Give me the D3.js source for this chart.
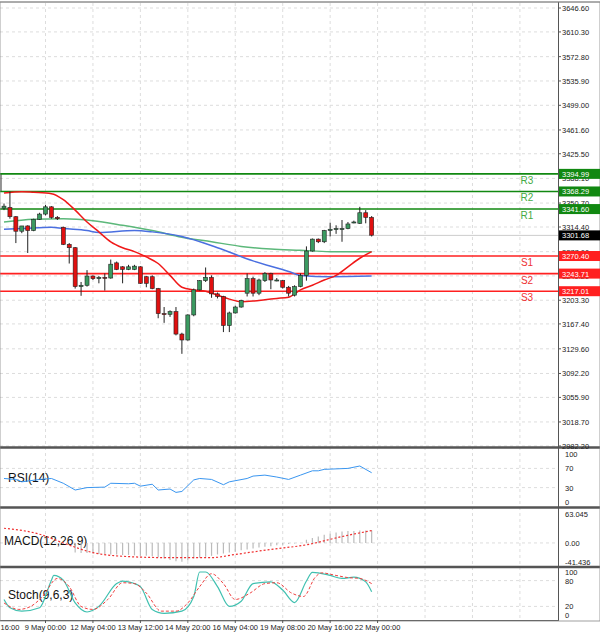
<!DOCTYPE html>
<html><head><meta charset="utf-8">
<script src="https://cdn.jsdelivr.net/npm/d3@7"></script>
<style>body{margin:0;background:#fff}svg{display:block;font-family:"Liberation Sans",Arial,sans-serif}</style>
</head><body><svg id="c" width="600" height="632"></svg>
<script>
// candles: open, high, low, close
const candles = [
 [3343,3350,3340,3346],[3344,3368,3327,3330],[3330,3331,3290,3308],[3308,3316,3305,3316],[3316,3317,3275,3309],
 [3309,3327,3308,3326],[3326,3336,3325,3334],[3334,3348,3332,3345],[3345,3346,3327,3329],[3329,3331,3325,3327],
 [3314,3315,3287,3288],[3288,3290,3259,3283],[3283,3284,3221,3224],[3224,3231,3210,3226],[3226,3249,3224,3240],
 [3240,3241,3234,3236],[3236,3240,3229,3238],[3238,3244,3218,3237],[3237,3265,3236,3258],[3260,3262,3249,3250],
 [3254,3255,3229,3250],[3250,3257,3249,3254],[3250,3257,3249,3255],[3254,3255,3228,3229],[3239,3240,3223,3229],
 [3239,3241,3220,3221],[3221,3222,3176,3183],[3183,3193,3169,3182],[3182,3188,3178,3186],[3186,3193,3150,3152],
 [3152,3154,3122,3143],[3143,3182,3142,3181],[3181,3221,3179,3219],[3219,3234,3218,3233],[3233,3253,3231,3238],
 [3238,3241,3207,3213],[3213,3215,3206,3209],[3209,3210,3155,3165],[3165,3186,3155,3184],[3184,3195,3183,3193],
 [3193,3204,3192,3203],[3214,3244,3209,3236],[3236,3239,3209,3214],[3214,3236,3211,3234],[3233,3246,3231,3244],
 [3244,3245,3220,3234],[3234,3237,3232,3234],[3233,3234,3221,3223],[3223,3225,3209,3214],[3211,3226,3209,3224],
 [3224,3244,3223,3241],[3241,3285,3233,3278],[3278,3297,3277,3296],[3296,3297,3290,3292],[3292,3310,3290,3309],
 [3309,3321,3300,3311],[3312,3317,3304,3312],[3312,3325,3292,3312],[3312,3322,3311,3319],[3321,3324,3320,3322],
 [3320,3345,3319,3336],[3336,3340,3320,3329],[3329,3331,3300,3302]
];
const lastPrice = 3301.68;
const maRed = [[0,3366],[3,3368],[5,3367],[8,3365],[10,3356],[12,3340],[14,3322],[16,3307],[18,3292],[20,3283],[22,3277],[24,3269],[26,3259],[28,3241],[30,3223],[32,3219],[34,3217],[36,3211],[38,3205],[40,3201],[42,3202],[44,3204],[46,3206],[48,3208],[50,3219],[52,3226],[54,3234],[56,3241],[58,3254],[60,3267],[62,3277]];
const maGreen = [[0,3322],[5,3326],[10,3327],[15,3324],[20,3317],[25,3309],[30,3299],[35,3292],[40,3285],[45,3281],[50,3279],[55,3277],[62,3277]];
const maBlue = [[0,3311],[3,3312],[8,3314],[10,3312],[14,3309],[16,3306],[22,3309],[25,3307],[30,3300],[36,3283],[42,3263],[48,3247],[50,3241],[55,3239],[62,3240]];
const levels = [["R3",3394.99],["R2",3368.29],["R1",3341.60],["S1",3270.40],["S2",3243.71],["S3",3217.01]];
const priceTicks = ["3646.60","3610.30","3572.80","3535.90","3499.00","3461.60","3425.50","3388.10","3350.70","3314.40","3277.00","3240.20","3203.30","3167.40","3129.60","3092.20","3055.90","3018.70","2982.20"];
const timeLabels = [[-1,"16:00"],[7,"9 May 00:00"],[15,"12 May 04:00"],[23,"13 May 12:00"],[31,"14 May 20:00"],[39,"16 May 04:00"],[47,"19 May 08:00"],[55,"20 May 16:00"],[63,"22 May 00:00"]];
const rsi = [[0,49],[2,47],[3,42],[6,47],[8,49],[10,39],[12,25],[14,30],[17,31],[18,39],[21,38],[22,39],[23,33],[25,37],[26,25],[28,27],[29,20],[30,22],[32,46],[33,49],[35,47],[37,36],[38,42],[41,49],[42,54],[44,56],[46,52],[48,47],[50,56],[52,65],[53,65],[54,68],[56,69],[58,70],[60,75],[62,61]];
const macdHist = [0,0,0,0,0,0,0,0,0,0,0,0,-21,-22,-22,-23,-24,-24,-25,-25,-26,-26,-27,-28,-28,-29,-31,-34,-37,-40,-41,-38,-34,-32,-30,-28,-25,-23,-21,-19,-16,-14,-12,-10,-8,-7,-5,-4,-2,-1,0,7,11,14,18,20,23,25,26,26,27,27,27];
const macdSignal = [[0,32],[6,19],[10,0],[15,-21],[20,-29],[28,-32],[35,-32],[39,-25],[45,-14],[51,-4],[57,14],[62,27]];
const stochK = [[0,36],[1,17],[3,9],[6,17],[8,81],[8.4,92],[10,81],[12,28],[14,7],[16,20],[19,73],[20,79],[21,77],[23,66],[25,13],[27,4],[30,9],[32,43],[33,100],[34,100],[36,66],[38,20],[40,32],[42,73],[45,77],[47,58],[49,29],[51,79],[52,99],[53,98],[55,92],[57,85],[59,88],[61,77],[62,54]];
const stochD = [[0,28],[2.5,13],[4.5,20],[6.5,43],[9,85],[11,66],[13,20],[15,13],[17.5,36],[20,75],[22,73],[24,51],[26.5,9],[29,9],[31,28],[33,66],[35,96],[37,73],[39,36],[41.5,51],[44,73],[46,75],[48.5,51],[50.5,43],[52.5,88],[53.5,98],[56,92],[58,87],[60,85],[62,73]];

const svg = d3.select("#c");
const W = 558;
const x = d3.scaleLinear().domain([0, 1]).range([4, 9.93]);
const y = d3.scaleLinear().domain([2982.2, 3646.6]).range([446, 8]);
const panels = [
  {top: 450, bottom: 506, y: d3.scaleLinear().domain([0,100]).range([502,454]), ticks:[[100,"100"],[70,"70"],[30,"30"],[0,"0"]], grid:[70,30], title:"RSI(14)", ty:482, tx:8},
  {top: 509, bottom: 566, y: d3.scaleLinear().domain([-41.436,63.045]).range([562,514]), ticks:[[63.045,"63.045"],[0,"0.00"],[-41.436,"-41.436"]], grid:[0], title:"MACD(12,26,9)", ty:545, tx:4},
  {top: 568, bottom: 620, y: d3.scaleLinear().domain([0,100]).range([615,572]), ticks:[[100,"100"],[80,"80"],[20,"20"],[0,"0"]], grid:[80,20], title:"Stoch(9,6,3)", ty:599, tx:8}
];

// vertical grid
const vg = svg.append("g");
for (let i = -1; i < 95; i += 8) {
  vg.append("line").attr("x1", x(i)).attr("x2", x(i)).attr("y1", 3).attr("y2", 620)
    .attr("stroke", "#ddd").attr("stroke-dasharray", "3,3");
}
// horizontal grid main
priceTicks.forEach(t => svg.append("line").attr("x1", 0).attr("x2", W).attr("y1", y(+t)).attr("y2", y(+t))
  .attr("stroke", "#ddd").attr("stroke-dasharray", "3,3"));
svg.append("line").attr("x1", 0).attr("x2", W).attr("y1", y(lastPrice)).attr("y2", y(lastPrice)).attr("stroke", "#ccc");

// levels
svg.append("line").attr("x1", 1).attr("x2", 1).attr("y1", y(3394.99)).attr("y2", y(3368.29)).attr("stroke", "#333");
levels.forEach(([n, v]) => {
  const res = n[0] === "R";
  const col = res ? "#118811" : "#ff2020";
  svg.append("line").attr("x1", 0).attr("x2", W).attr("y1", y(v)).attr("y2", y(v)).attr("stroke", col).attr("stroke-width", 1.6);
  svg.append("text").attr("x", 527).attr("y", y(v) + 10).attr("text-anchor", "middle").attr("font-size", 10)
    .attr("fill", res ? "#44aa44" : "#ee3333").text(n);
});

// moving averages
const line = d3.line().x(d => x(d[0])).y(d => y(d[1])).curve(d3.curveMonotoneX);
svg.append("path").attr("d", line(maGreen)).attr("fill", "none").attr("stroke", "#5cb87a").attr("stroke-width", 1.5);
svg.append("path").attr("d", line(maBlue)).attr("fill", "none").attr("stroke", "#4a6fe0").attr("stroke-width", 1.5);
svg.append("path").attr("d", line(maRed)).attr("fill", "none").attr("stroke", "#f01818").attr("stroke-width", 1.5);

// candles
const cg = svg.append("g").selectAll("g").data(candles).join("g");
cg.append("line").attr("x1", (d, i) => x(i)).attr("x2", (d, i) => x(i))
  .attr("y1", d => y(d[1])).attr("y2", d => y(d[2])).attr("stroke", "#222");
cg.append("rect").attr("x", (d, i) => x(i) - 2).attr("width", 4)
  .attr("y", d => y(Math.max(d[0], d[3]))).attr("height", d => Math.max(1, Math.abs(y(d[0]) - y(d[3]))))
  .attr("fill", d => d[3] >= d[0] ? "#3a9a60" : "#e01010").attr("stroke", "#222").attr("stroke-width", 0.6);

// indicator panels
panels.forEach(p => {
  p.grid.forEach(g => svg.append("line").attr("x1", 0).attr("x2", W).attr("y1", p.y(g)).attr("y2", p.y(g))
    .attr("stroke", "#ddd").attr("stroke-dasharray", "3,3"));
  svg.append("text").attr("x", p.tx).attr("y", p.ty).attr("font-size", 12).attr("fill", "#111").text(p.title);
  p.ticks.forEach(([v, t]) => svg.append("text").attr("x", 565).attr("y", p.y(v) + 3).attr("font-size", 7.5).attr("fill", "#222").text(t));
});
const rl = d3.line().x(d => x(d[0])).y(d => panels[0].y(d[1]));
svg.append("path").attr("d", rl(rsi)).attr("fill", "none").attr("stroke", "#3a96f0").attr("stroke-width", 1);

const my = panels[1].y;
svg.append("g").selectAll("line").data(macdHist).join("line")
  .attr("x1", (d, i) => x(i)).attr("x2", (d, i) => x(i)).attr("y1", my(0)).attr("y2", d => my(d))
  .attr("stroke", "#bbb").attr("stroke-width", 1.2);
svg.append("path").attr("d", d3.line().x(d => x(d[0])).y(d => my(d[1])).curve(d3.curveMonotoneX)(macdSignal))
  .attr("fill", "none").attr("stroke", "#f03030").attr("stroke-dasharray", "2,2").attr("stroke-width", 1.2);

const sy = panels[2].y;
const sl = d3.line().x(d => x(d[0])).y(d => sy(d[1])).curve(d3.curveMonotoneX);
svg.append("path").attr("d", sl(stochK)).attr("fill", "none").attr("stroke", "#40c0b0").attr("stroke-width", 1.2);
svg.append("path").attr("d", sl(stochD)).attr("fill", "none").attr("stroke", "#f04040").attr("stroke-dasharray", "3,2").attr("stroke-width", 1);

// frames
[2, 447.5, 507.5, 567].forEach(v => svg.append("line").attr("x1", 0).attr("x2", 600).attr("y1", v).attr("y2", v)
  .attr("stroke", v === 2 ? "#888" : "#555").attr("stroke-width", v === 2 ? 1 : 2.5));
svg.append("line").attr("x1", 0).attr("x2", W).attr("y1", 620.5).attr("y2", 620.5).attr("stroke", "#555");
svg.append("line").attr("x1", W + 0.5).attr("x2", W + 0.5).attr("y1", 2).attr("y2", 621).attr("stroke", "#555");
svg.append("rect").attr("x", 0).attr("y", 2).attr("width", 600).attr("height", 619).attr("fill", "none").attr("stroke", "#888").attr("stroke-width", 0.8);

// price axis
priceTicks.forEach(t => {
  svg.append("line").attr("x1", W).attr("x2", W + 3).attr("y1", y(+t)).attr("y2", y(+t)).attr("stroke", "#555");
  svg.append("text").attr("x", 562).attr("y", y(+t) + 3).attr("font-size", 7.5).attr("fill", "#222").text(t);
});
const tag = (v, col) => {
  svg.append("rect").attr("x", W + 1).attr("y", y(v) - 5).attr("width", 42).attr("height", 10).attr("fill", col);
  svg.append("text").attr("x", 562).attr("y", y(v) + 3).attr("font-size", 7.5).attr("fill", "#fff").text(v.toFixed(2));
};
levels.forEach(([n, v]) => tag(v, n[0] === "R" ? "#118811" : "#ff2020"));
tag(lastPrice, "#000");

// time axis
timeLabels.forEach(([i, t]) => {
  const xx = Math.max(x(i), 10);
  svg.append("line").attr("x1", x(i)).attr("x2", x(i)).attr("y1", 620).attr("y2", 623).attr("stroke", "#555");
  svg.append("text").attr("x", xx).attr("y", 630).attr("text-anchor", "middle").attr("font-size", 7.5).attr("fill", "#222").text(t);
});
</script></body></html>
